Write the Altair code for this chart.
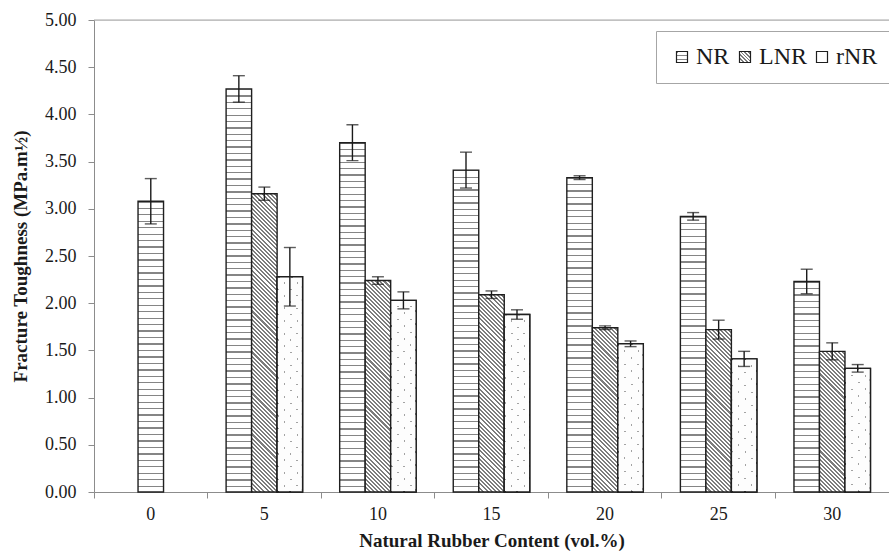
import math
import json
import altair as alt
import pandas as pd

# ---------------- data ----------------
categories = ["0", "5", "10", "15", "20", "25", "30"]
series_names = ["NR", "LNR", "rNR"]
nr_mean = [3.08, 4.27, 3.70, 3.41, 3.33, 2.92, 2.23]
nr_err = [0.24, 0.14, 0.19, 0.19, 0.02, 0.04, 0.13]
lnr_mean = [None, 3.16, 2.24, 2.09, 1.74, 1.72, 1.49]
lnr_err = [None, 0.07, 0.04, 0.04, 0.02, 0.10, 0.09]
rnr_mean = [None, 2.28, 2.03, 1.88, 1.57, 1.41, 1.31]
rnr_err = [None, 0.31, 0.09, 0.05, 0.03, 0.08, 0.04]
y_ticks = [0.0, 0.5, 1.0, 1.5, 2.0, 2.5, 3.0, 3.5, 4.0, 4.5, 5.0]

# ---------------- layout ----------------
W, H, YMAX = 795, 472, 5.0
PAD_OUTER = 0.727
BAR_W = W / len(categories) / (3 + 2 * PAD_OUTER)
SERIF = "Liberation Serif"


def stripe_stops(n, frac, col, bg):
    stops = []
    for i in range(n):
        o = i / n
        e = (i + frac) / n
        stops += [{"offset": o, "color": col}, {"offset": e, "color": col},
                  {"offset": e, "color": bg}, {"offset": (i + 1) / n, "color": bg}]
    return stops


def hstripes(h_px, period=6.4, line=1.3, col="#858585", bg="#ffffff"):
    n = max(1, round(h_px / period))
    frac = min(1.0, line / (h_px / n))
    return {"gradient": "linear", "x1": 0, "y1": 0, "x2": 0.000001, "y2": 1,
            "stops": stripe_stops(n, frac, col, bg)}


def diag(w, h, spacing, thick, col, bg, down=True):
    # lines at 45 degrees; spacing/thick measured along x (x +/- y = const)
    n = max(1, round((w + h) / spacing))
    frac = min(1.0, thick / ((w + h) / n))
    k = (w + h) / (w * w + h * h)
    if down:   # "\" lines
        g = {"x1": 0.000001, "y1": 1, "x2": w * k, "y2": 1 - h * k}
    else:      # "/" lines
        g = {"x1": 0.000001, "y1": 0.000001, "x2": w * k, "y2": h * k}
    g.update({"gradient": "linear", "stops": stripe_stops(n, frac, col, bg)})
    return g


rows = []
for name, means, errs in [("NR", nr_mean, nr_err), ("LNR", lnr_mean, lnr_err), ("rNR", rnr_mean, rnr_err)]:
    for i, cat in enumerate(categories):
        m, e = means[i], errs[i]
        if m is None:
            continue
        h_px = m / YMAX * H
        overlay = None
        if name == "NR":
            slot = 1 if cat == "0" else 0
            grad = hstripes(h_px)
        elif name == "LNR":
            slot = 1
            grad = diag(BAR_W, h_px, spacing=4.1, thick=2.05, col="#7d7d7d", bg="#ffffff", down=True)
        else:
            slot = 2
            grad = diag(BAR_W, h_px, spacing=13, thick=2.0, col="#a3a3a3", bg="#fdfdfd", down=False)
            overlay = diag(BAR_W, h_px, spacing=13, thick=2.0, col="rgba(255,255,255,0)",
                           bg="#fdfdfd", down=True)
        rows.append({"cat": cat, "series": name, "slot": slot, "value": m,
                     "lo": m - e, "hi": m + e, "grad": grad, "grad2": overlay})
df = pd.DataFrame(rows)

# legend symbol fills (same patterns, small)
leg_nr = json.dumps(hstripes(11, period=4.0, line=1.0))
leg_lnr = json.dumps(diag(11, 11, spacing=3.7, thick=1.85, col="#7d7d7d", bg="#ffffff", down=True))
leg_expr = f"datum.value === 'NR' ? {leg_nr} : (datum.value === 'LNR' ? {leg_lnr} : '#ffffff')"

yax = alt.Axis(values=y_ticks, format=".2f", grid=False, domainColor="#8c8c8c", tickColor="#8c8c8c",
               tickSize=6, labelFont=SERIF, labelFontSize=18, labelColor="#1a1a1a", labelPadding=12,
               title="Fracture Toughness (MPa.m½)", titleFont=SERIF, titleFontSize=19,
               titleFontWeight="bold", titleColor="#1a1a1a", titlePadding=14)
yscale = alt.Scale(domain=[0, YMAX], nice=False, zero=True)

xscale = alt.Scale(domain=categories, paddingInner=0, paddingOuter=0)
offscale = alt.Scale(domain=[0, 1, 2], paddingInner=0, paddingOuter=PAD_OUTER)

x_label_axis = alt.Axis(orient="bottom", labelAngle=0, ticks=False, tickSize=0, domainColor="#8c8c8c",
                        labelFont=SERIF, labelFontSize=18, labelColor="#1a1a1a", labelPadding=13,
                        title="Natural Rubber Content (vol.%)", titleFont=SERIF, titleFontSize=19,
                        titleFontWeight="bold", titleColor="#1a1a1a", titlePadding=8)
x_tick_axis = alt.Axis(orient="bottom", labels=False, domain=False, ticks=True, tickSize=6,
                       tickColor="#8c8c8c", bandPosition=0, title=None)

base = alt.Chart(df)

top_line = alt.Chart(pd.DataFrame({"top": [YMAX]})).mark_rule(color="#a6a6a6", strokeWidth=1).encode(
    y=alt.Y("top:Q", scale=yscale, axis=yax)
)

bars = base.mark_bar(strokeWidth=1.4).encode(
    x=alt.X("cat:O", sort=categories, scale=xscale, axis=x_label_axis),
    xOffset=alt.XOffset("slot:O", scale=offscale),
    y=alt.Y("value:Q", scale=yscale, axis=yax),
    fill=alt.Fill("grad:N", scale=None),
    stroke=alt.Stroke("series:N", scale=alt.Scale(domain=series_names, range=["#1f1f1f"] * 3),
                      legend=alt.Legend(title=None, orient="none", direction="horizontal",
                                        legendX=562, legendY=11, symbolType="square", symbolSize=121,
                                        symbolStrokeWidth=1.2, symbolFillColor=alt.ExprRef(expr=leg_expr),
                                        labelFont=SERIF, labelFontSize=24, labelColor="#1a1a1a",
                                        labelOffset=2, columnPadding=3, padding=14,
                                        strokeColor="#a6a6a6", fillColor="#ffffff")),
)

# dotted texture of the rNR bars: white overlay with thin transparent diagonals
rnr_overlay = base.transform_filter(alt.datum.series == "rNR").mark_bar(strokeWidth=0).encode(
    x=alt.X("cat:O", sort=categories, scale=xscale, axis=None),
    xOffset=alt.XOffset("slot:O", scale=offscale),
    y=alt.Y("value:Q", scale=yscale, axis=yax),
    fill=alt.Fill("grad2:N", scale=None),
)
rnr_outline = base.transform_filter(alt.datum.series == "rNR").mark_bar(
    fillOpacity=0, stroke="#1f1f1f", strokeWidth=1.4).encode(
    x=alt.X("cat:O", sort=categories, scale=xscale, axis=None),
    xOffset=alt.XOffset("slot:O", scale=offscale),
    y=alt.Y("value:Q", scale=yscale, axis=yax),
)

err_rule = base.mark_rule(color="#1a1a1a", strokeWidth=1.4).encode(
    x=alt.X("cat:O", sort=categories, scale=xscale, axis=x_tick_axis),
    xOffset=alt.XOffset("slot:O", scale=offscale),
    y=alt.Y("lo:Q", scale=yscale, axis=yax),
    y2="hi:Q",
)

cap_hi = base.mark_tick(color="#1a1a1a", size=12, thickness=1.4).encode(
    x=alt.X("cat:O", sort=categories, scale=xscale, axis=None),
    xOffset=alt.XOffset("slot:O", scale=offscale),
    y=alt.Y("hi:Q", scale=yscale, axis=yax),
)
cap_lo = base.mark_tick(color="#1a1a1a", size=12, thickness=1.4).encode(
    x=alt.X("cat:O", sort=categories, scale=xscale, axis=None),
    xOffset=alt.XOffset("slot:O", scale=offscale),
    y=alt.Y("lo:Q", scale=yscale, axis=yax),
)

chart = alt.layer(top_line, bars, rnr_overlay, rnr_outline, err_rule, cap_hi, cap_lo).resolve_axis(
    x="independent").properties(
    width=W, height=H,
    autosize=alt.AutoSizeParams(type="none"),
    padding={"left": 94, "top": 20, "right": 0, "bottom": 62},
).configure_view(stroke=None).configure(background="#ffffff")

chart.save("out.html", embed_options={"renderer": "svg", "actions": False})
